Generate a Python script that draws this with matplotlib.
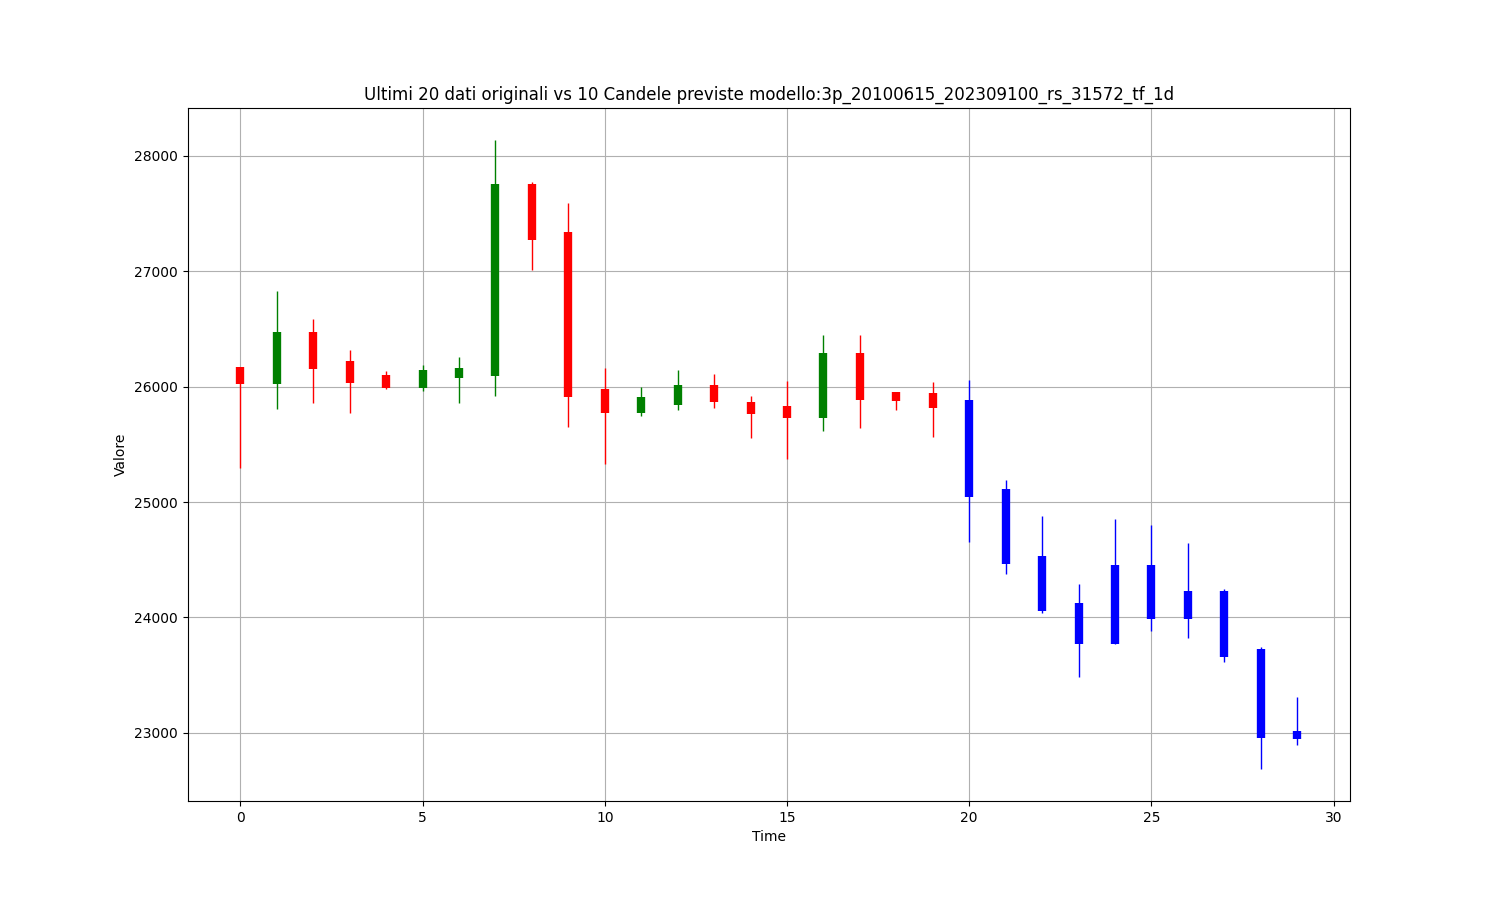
import numpy as np
import matplotlib
matplotlib.use("Agg")
import matplotlib.pyplot as plt

# ultimi 20 dati originali
orig_open = [26170, 26020, 26473, 26222, 26101, 25986, 26075, 26089, 27755, 27336,
             25980, 25769, 25838, 26014, 25867, 25833, 25726, 26291, 25954, 25945]
orig_close = [26020, 26473, 26153, 26029, 25986, 26144, 26162, 27755, 27270, 25911,
              25769, 25911, 26014, 25867, 25760, 25726, 26291, 25882, 25873, 25812]
orig_high = [26170, 26825, 26583, 26317, 26136, 26188, 26257, 28141, 27772, 27590,
             26159, 25997, 26144, 26110, 25919, 26049, 26447, 26447, 25954, 26040]
orig_low = [25293, 25804, 25856, 25769, 25977, 25960, 25856, 25916, 27007, 25648,
            25333, 25746, 25795, 25812, 25553, 25371, 25613, 25639, 25795, 25561]

# 10 candele previste
pred_open = [25882, 25112, 24532, 24125, 24454, 24454, 24229, 24229, 23727, 23020]
pred_close = [25045, 24466, 24059, 23770, 23770, 23990, 23990, 23661, 22954, 22943]
pred_high = [26058, 25192, 24881, 24290, 24852, 24803, 24647, 24246, 23745, 23315]
pred_low = [24656, 24376, 24039, 23485, 23770, 23883, 23825, 23615, 22683, 22897]

x_orig = np.arange(len(orig_open))
x_pred = np.arange(len(orig_open), len(orig_open) + len(pred_open))

fig, ax = plt.subplots(figsize=(15, 9), dpi=100)

colors = ['green' if c >= o else 'red' for o, c in zip(orig_open, orig_close)]
ax.vlines(x_orig, orig_low, orig_high, colors=colors, linewidth=1)
ax.vlines(x_orig, orig_open, orig_close, colors=colors, linewidth=6)

ax.vlines(x_pred, pred_low, pred_high, colors='blue', linewidth=1)
ax.vlines(x_pred, pred_open, pred_close, colors='blue', linewidth=6)

ax.set_title("Ultimi 20 dati originali vs 10 Candele previste modello:3p_20100615_202309100_rs_31572_tf_1d")
ax.set_xlabel("Time")
ax.set_ylabel("Valore")
ax.grid(True)

plt.savefig("out.png", dpi=100)
